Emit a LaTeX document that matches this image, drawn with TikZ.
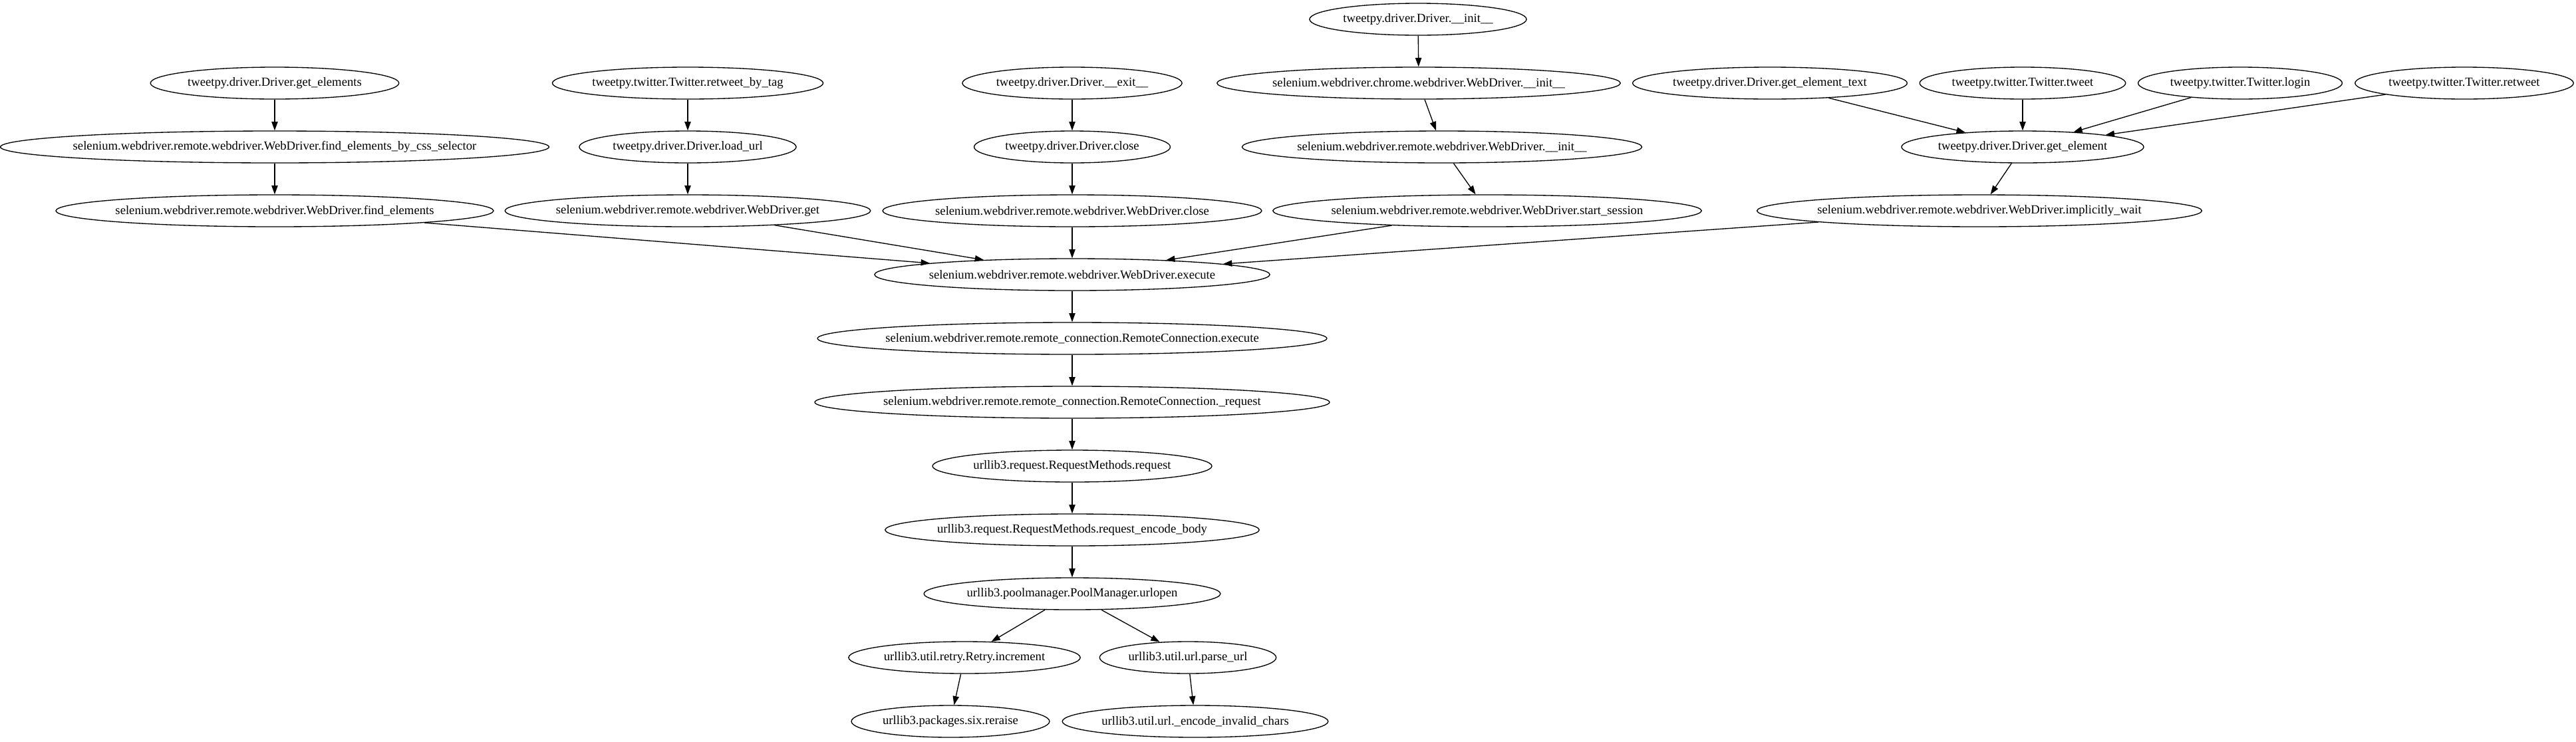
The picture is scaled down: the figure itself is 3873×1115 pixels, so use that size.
\documentclass[tikz,border=0pt]{standalone}
\usepackage{fontspec}
\setmainfont{Liberation Serif}
\usetikzlibrary{shapes.geometric,arrows.meta}
\tikzset{
  fn/.style={draw, ellipse, line width=1pt, inner xsep=8.33pt, inner ysep=0pt,
    minimum height=36pt, font=\fontsize{14}{16.8}\selectfont},
  ed/.style={-{Triangle[length=10pt,width=7pt]}, line width=1pt}
}
\newcommand\gv[4]{%
  \node[fn] (#1) at (#2,#3) {\makebox[0.925\width]{#4}};}
\begin{document}
\begin{tikzpicture}[x=0.75pt,y=-0.75pt]
\useasboundingbox (0,0) rectangle (3873,1115);
% nodes
\gv{ge}{413}{125}{tweetpy.driver.Driver.get\_elements}
\gv{css}{413}{221}{selenium.webdriver.remote.webdriver.WebDriver.find\_elements\_by\_css\_selector}
\gv{fe}{413}{317}{selenium.webdriver.remote.webdriver.WebDriver.find\_elements}
\gv{rbt}{1034}{125}{tweetpy.twitter.Twitter.retweet\_by\_tag}
\gv{lu}{1034}{221}{tweetpy.driver.Driver.load\_url}
\gv{wget}{1034}{317}{selenium.webdriver.remote.webdriver.WebDriver.get}
\gv{dex}{1612}{125}{tweetpy.driver.Driver.\_\_exit\_\_}
\gv{tcl}{1612}{221}{tweetpy.driver.Driver.close}
\gv{wcl}{1612}{317}{selenium.webdriver.remote.webdriver.WebDriver.close}
\gv{din}{2132}{29}{tweetpy.driver.Driver.\_\_init\_\_}
\gv{cin}{2133}{125}{selenium.webdriver.chrome.webdriver.WebDriver.\_\_init\_\_}
\gv{rin}{2168}{221}{selenium.webdriver.remote.webdriver.WebDriver.\_\_init\_\_}
\gv{ss}{2236}{317}{selenium.webdriver.remote.webdriver.WebDriver.start\_session}
\gv{get}{2661}{125}{tweetpy.driver.Driver.get\_element\_text}
\gv{tw}{3041}{125}{tweetpy.twitter.Twitter.tweet}
\gv{lg}{3368}{125}{tweetpy.twitter.Twitter.login}
\gv{rt}{3705}{125}{tweetpy.twitter.Twitter.retweet}
\gv{gel}{3041}{221}{tweetpy.driver.Driver.get\_element}
\gv{iw}{2976}{317}{selenium.webdriver.remote.webdriver.WebDriver.implicitly\_wait}
\gv{exe}{1612}{413}{selenium.webdriver.remote.webdriver.WebDriver.execute}
\gv{rce}{1612}{509}{selenium.webdriver.remote.remote\_connection.RemoteConnection.execute}
\gv{rcr}{1612}{605}{selenium.webdriver.remote.remote\_connection.RemoteConnection.\_request}
\gv{rq}{1612}{701}{urllib3.request.RequestMethods.request}
\gv{reb}{1612}{797}{urllib3.request.RequestMethods.request\_encode\_body}
\gv{uo}{1612}{893}{urllib3.poolmanager.PoolManager.urlopen}
\gv{inc}{1450}{989}{urllib3.util.retry.Retry.increment}
\gv{pu}{1786}{989}{urllib3.util.url.parse\_url}
\gv{rr}{1429}{1085}{urllib3.packages.six.reraise}
\gv{eic}{1797}{1085}{urllib3.util.url.\_encode\_invalid\_chars}
% edges
\draw[ed] (ge) -- (css);
\draw[ed] (css) -- (fe);
\draw[ed] (fe) -- (exe);
\draw[ed] (rbt) -- (lu);
\draw[ed] (lu) -- (wget);
\draw[ed] (wget) -- (exe);
\draw[ed] (dex) -- (tcl);
\draw[ed] (tcl) -- (wcl);
\draw[ed] (wcl) -- (exe);
\draw[ed] (din) -- (cin);
\draw[ed] (cin) -- (rin);
\draw[ed] (rin) -- (ss);
\draw[ed] (ss) -- (exe);
\draw[ed] (get) -- (gel);
\draw[ed] (tw) -- (gel);
\draw[ed] (lg) -- (gel);
\draw[ed] (rt) -- (gel);
\draw[ed] (gel) -- (iw);
\draw[ed] (iw) -- (exe);
\draw[ed] (exe) -- (rce);
\draw[ed] (rce) -- (rcr);
\draw[ed] (rcr) -- (rq);
\draw[ed] (rq) -- (reb);
\draw[ed] (reb) -- (uo);
\draw[ed] (uo) -- (inc);
\draw[ed] (uo) -- (pu);
\draw[ed] (inc) -- (rr);
\draw[ed] (pu) -- (eic);
\end{tikzpicture}
\end{document}
